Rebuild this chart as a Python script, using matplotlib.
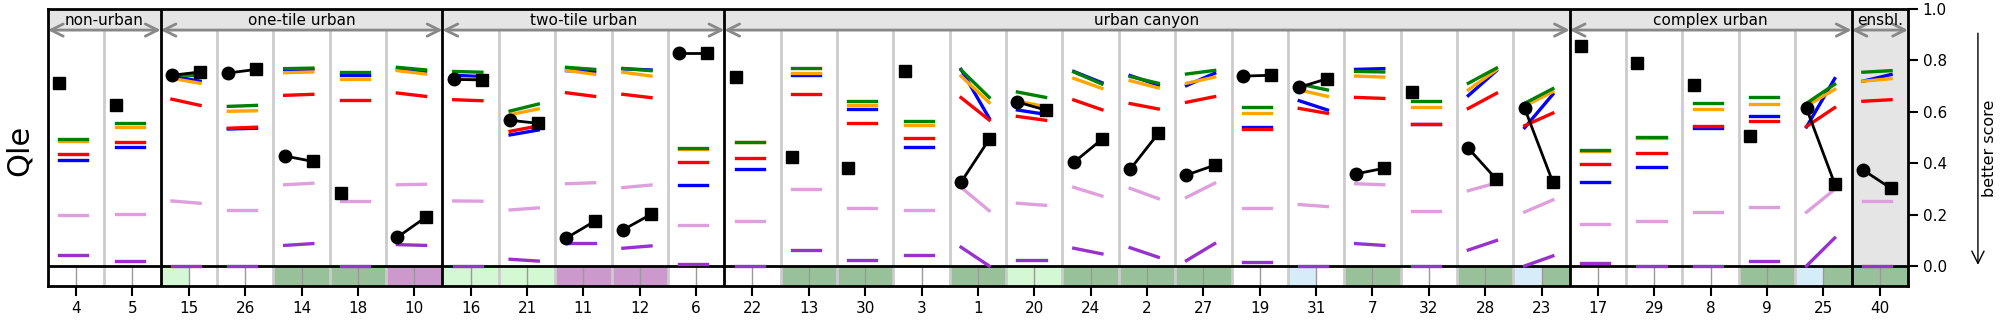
import numpy as np
import matplotlib.pyplot as plt

sites = ['4', '5', '15', '26', '14', '18', '10', '16', '21', '11', '12', '6',
         '22', '13', '30', '3', '1', '20', '24', '2', '27', '19', '31', '7', '32',
         '28', '23', '17', '29', '8', '9', '25', '40']
group_names = ['non-urban', 'one-tile urban', 'two-tile urban', 'urban canyon',
               'complex urban', 'ensbl.']
group_sizes = [2, 5, 5, 15, 5, 1]

# model scores at the first (a) and second (b) stage
green_a = [.495, .555, .745, .621, .768, .755, .773, .757, .603, .773, .769, .458,
           .484, .769, .641, .563, .763, .677, .755, .737, .747, .619, .708, .757, .641,
           .711, .633, .450, .501, .633, .656, .633, .754]
green_b = [.495, .555, .740, .625, .770, .755, .763, .754, .630, .765, .760, .458,
           .484, .769, .641, .563, .656, .656, .708, .711, .761, .619, .685, .755, .641,
           .770, .690, .450, .501, .633, .656, .707, .760]
orange_a = [.488, .541, .730, .602, .752, .726, .760, .729, .589, .761, .754, .455,
            .482, .750, .628, .547, .739, .642, .730, .721, .711, .597, .685, .739, .617,
            .685, .623, .448, .499, .610, .629, .623, .719]
orange_b = [.488, .541, .711, .604, .755, .726, .747, .726, .611, .746, .739, .455,
            .482, .750, .628, .547, .636, .620, .691, .693, .735, .597, .660, .735, .617,
            .763, .678, .448, .499, .610, .629, .687, .729]
blue_a = [.411, .462, .739, .533, .764, .742, .765, .742, .510, .760, .767, .314,
          .376, .742, .610, .462, .765, .607, .757, .741, .702, .540, .643, .765, .553,
          .663, .538, .326, .384, .537, .584, .541, .719]
blue_b = [.411, .462, .719, .536, .766, .742, .757, .737, .529, .757, .763, .314,
          .376, .742, .610, .462, .575, .590, .713, .704, .750, .540, .607, .768, .553,
          .760, .668, .326, .384, .537, .584, .729, .745]
red_a = [.434, .481, .649, .536, .664, .645, .673, .647, .524, .674, .668, .403,
         .419, .668, .555, .498, .655, .582, .646, .632, .637, .534, .613, .656, .551,
         .613, .546, .396, .438, .546, .563, .543, .641]
red_b = [.434, .481, .625, .540, .668, .645, .660, .643, .545, .660, .655, .403,
         .419, .668, .555, .498, .568, .567, .608, .611, .659, .534, .594, .652, .551,
         .672, .595, .396, .438, .546, .563, .616, .647]
plum_a = [.197, .201, .253, .218, .316, .252, .316, .253, .218, .320, .305, .158,
          .174, .298, .224, .217, .306, .244, .306, .302, .267, .226, .239, .320, .213,
          .293, .210, .162, .174, .209, .228, .209, .253]
plum_b = [.197, .201, .244, .218, .322, .252, .318, .252, .226, .324, .315, .158,
          .174, .298, .224, .217, .215, .236, .272, .262, .322, .226, .231, .316, .213,
          .323, .257, .162, .174, .209, .228, .298, .253]
violet_a = [.042, .018, 0, 0, .080, 0, .083, 0, .026, .088, .069, .006,
            0, .061, .022, .042, .073, .022, .069, .071, .021, .016, 0, .087, 0,
            .062, 0, .010, 0, 0, .018, 0, 0]
violet_b = [.042, .018, 0, 0, .087, 0, .080, 0, .019, .088, .078, .006,
            0, .061, .022, .042, 0, .022, .047, .034, .087, .016, 0, .080, 0,
            .099, .039, .010, 0, 0, .018, .109, 0]

# observations: circle (first stage) and square
circle_val = [None, None, .742, .751, .428, None, .112, .726, .567, .109, .140, .827,
              None, None, None, None, .326, .638, .403, .376, .354, .739, .695, .358, None,
              .458, .613, None, None, None, None, .613, .374]
square_val = [.711, .625, .755, .765, .407, .283, .189, .724, .555, .174, .201, .827,
              .734, .423, .380, .757, .493, .607, .493, .516, .392, .742, .729, .380, .676,
              .337, .326, .855, .789, .703, .505, .320, .302]

# classification strip below zero (left half / right half)
strip_left = ['w', 'w', 'lg', 'w', 'dg', 'dg', 'pu', 'lg', 'lg', 'pu', 'pu', 'w',
              'w', 'dg', 'dg', 'w', 'dg', 'lg', 'dg', 'dg', 'dg', 'w', 'lb', 'dg', 'w',
              'dg', 'lb', 'w', 'w', 'w', 'dg', 'lb', 'dg']
strip_right = ['w', 'w', 'w', 'w', 'dg', 'dg', 'pu', 'lg', 'lg', 'pu', 'pu', 'w',
               'w', 'dg', 'dg', 'w', 'dg', 'lg', 'dg', 'dg', 'dg', 'w', 'w', 'dg', 'w',
               'dg', 'dg', 'w', 'w', 'w', 'dg', 'dg', 'dg']
strip_colors = {'w': 'white', 'lg': '#d4f7d4', 'dg': '#99c199',
                'pu': '#cc99cc', 'lb': '#d6ecf8'}

ylo, yhead = -0.078, 0.918
n = len(sites)
x = np.arange(n)

fig, ax = plt.subplots(figsize=(20.05, 3.25), dpi=100)
fig.subplots_adjust(left=0.0239, right=0.9516, bottom=0.12, top=0.9723)
ax.set_xlim(-0.5, n - 0.5)
ax.set_ylim(ylo, 1.0)

# header band and ensemble background
ax.axhspan(yhead, 1.0, color='#e5e5e5', zorder=0)
ax.axvspan(n - 1.5, n - 0.5, color='#e5e5e5', zorder=0)

# strip
ax.bar(x - 0.5, -ylo, width=0.5, bottom=ylo, align='edge',
       color=[strip_colors[c] for c in strip_left], zorder=1)
ax.bar(x, -ylo, width=0.5, bottom=ylo, align='edge',
       color=[strip_colors[c] for c in strip_right], zorder=1)
ax.vlines(x, ylo, 0, color='#999999', lw=1, zorder=1.5)

# dividers
bounds = np.cumsum(group_sizes)[:-1] - 0.5
site_bounds = [b for b in x[:-1] + 0.5 if b not in bounds]
ax.vlines(site_bounds, ylo, yhead, color='#cccccc', lw=2, zorder=2)
for b in bounds:
    ax.axvline(b, color='k', lw=2, zorder=5)
ax.axhline(0, color='k', lw=2, zorder=2)

# group headers
start = -0.5
for name, size in zip(group_names, group_sizes):
    end = start + size
    ax.annotate('', xy=(start, yhead), xytext=(end, yhead),
                arrowprops=dict(arrowstyle='<->', color='#888888', lw=2,
                                shrinkA=0, shrinkB=0, mutation_scale=22), zorder=3)
    ax.text((start + end) / 2, 0.957, name, ha='center', va='center', fontsize=11)
    start = end

# model lines
series = [(violet_a, violet_b, 'darkorchid'), (plum_a, plum_b, 'plum'),
          (blue_a, blue_b, 'blue'), (red_a, red_b, 'red'),
          (orange_a, orange_b, 'orange'), (green_a, green_b, 'green')]
for a, b, col in series:
    for i in range(n):
        ax.plot([i - 0.3, i + 0.2], [a[i], b[i]], color=col, lw=2.4,
                solid_capstyle='projecting', zorder=3)

# observations
for i in range(n):
    c, s = circle_val[i], square_val[i]
    if c is None:
        ax.plot(i - 0.3, s, 's', color='k', ms=9, zorder=6)
    else:
        ax.plot([i - 0.3, i + 0.2], [c, s], color='k', lw=2, zorder=6)
        ax.plot(i - 0.3, c, 'o', color='k', ms=9, zorder=6)
        ax.plot(i + 0.2, s, 's', color='k', ms=9, zorder=6)

ax.set_xticks(x)
ax.set_xticklabels(sites, fontsize=11)
ax.yaxis.tick_right()
ax.set_yticks(np.arange(0, 1.01, 0.2))
ax.set_yticklabels([f'{v:.1f}' for v in np.arange(0, 1.01, 0.2)], fontsize=11)
ax.tick_params(length=7, width=1.5)
for sp in ax.spines.values():
    sp.set_linewidth(2)
    sp.set_zorder(7)

fig.text(0.0095, 0.538, 'Qle', rotation=90, ha='center', va='center', fontsize=22)
fig.text(0.9925, 0.545, 'better score', rotation=90, ha='center', va='center', fontsize=11.5)
ax.annotate('', xy=(0.9865, 0.185), xytext=(0.9865, 0.898), xycoords='figure fraction',
            arrowprops=dict(arrowstyle='->', color='k', lw=1, mutation_scale=22,
                            shrinkA=0, shrinkB=0))

fig.savefig('out.png', dpi=100)
